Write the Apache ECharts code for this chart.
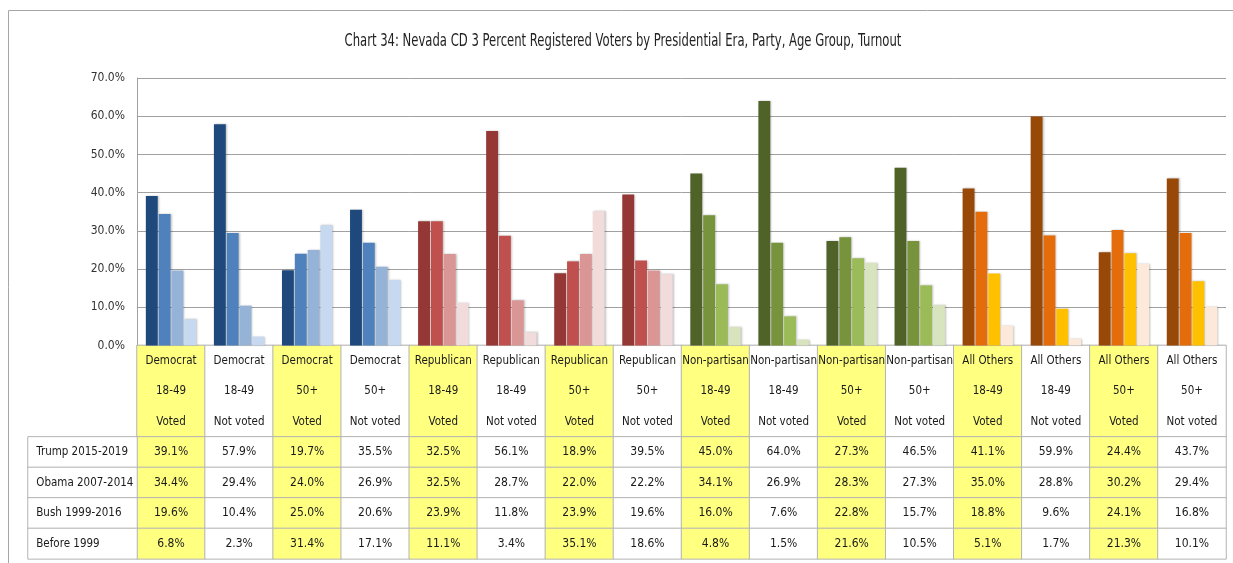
<!DOCTYPE html>
<html>
<head>
<meta charset="utf-8">
<script src="https://cdn.jsdelivr.net/npm/echarts@6/dist/echarts.min.js"></script>
<style>
html,body{margin:0;padding:0;background:#fff}
#main{width:1233px;height:563px}
</style>
</head>
<body>
<div id="main"></div>
<script>
// categories
var parties = ['Democrat', 'Republican', 'Non-partisan', 'All Others'];
var ages = ['18-49', '18-49', '50+', '50+'];
var turnout = ['Voted', 'Not voted', 'Voted', 'Not voted'];
var eras = ['Trump 2015-2019', 'Obama 2007-2014', 'Bush 1999-2016', 'Before 1999'];

// percent registered voters, one array per era
var trump  = [39.1, 57.9, 19.7, 35.5, 32.5, 56.1, 18.9, 39.5, 45.0, 64.0, 27.3, 46.5, 41.1, 59.9, 24.4, 43.7];
var obama  = [34.4, 29.4, 24.0, 26.9, 32.5, 28.7, 22.0, 22.2, 34.1, 26.9, 28.3, 27.3, 35.0, 28.8, 30.2, 29.4];
var bush   = [19.6, 10.4, 25.0, 20.6, 23.9, 11.8, 23.9, 19.6, 16.0,  7.6, 22.8, 15.7, 18.8,  9.6, 24.1, 16.8];
var before = [ 6.8,  2.3, 31.4, 17.1, 11.1,  3.4, 35.1, 18.6,  4.8,  1.5, 21.6, 10.5,  5.1,  1.7, 21.3, 10.1];

// colour shades per party (dark -> light, one per era)
var shades = [
	['#1f497d', '#4f81bd', '#95b3d7', '#c6d9f1'],
	['#953735', '#c0504d', '#d99694', '#f2dcdb'],
	['#4f6228', '#77933c', '#9bbb59', '#d7e4bd'],
	['#984807', '#e46c0a', '#ffc000', '#fde9d9']
];
var yellow = '#ffff80';
var cellBorder = '#b4b4b4';
var font = "'Liberation Sans Narrow', 'DejaVu Sans Condensed', 'Liberation Sans', sans-serif";
var titleText = 'Chart 34: Nevada CD 3 Percent Registered Voters by Presidential Era, Party, Age Group, Turnout';

var rows = [trump, obama, bush, before];
var cats = [];
for (var p = 0; p < parties.length; p++) {
	for (var k = 0; k < 4; k++) {
		cats.push({party: parties[p], pi: p, age: ages[k], turnout: turnout[k]});
	}
}
var catNames = cats.map(function (c) { return c.party + ' ' + c.age + ' ' + c.turnout; });

var chart = echarts.init(document.getElementById('main'));

// plot area
var L = 137, R = 1226, T = 78, B0 = 345.4;
var rowH = 30.5;
var cellFont = 12;

var series = [];
rows.forEach(function (row, s) {
	series.push({
		name: eras[s],
		type: 'bar',
		xAxisIndex: 0,
		yAxisIndex: 0,
		barCategoryGap: '26%',
		barGap: '8%',
		itemStyle: {
			shadowBlur: 2,
			shadowColor: 'rgba(0,0,0,0.25)',
			shadowOffsetX: 1,
			shadowOffsetY: 0
		},
		data: row.map(function (v, i) {
			return {value: v, itemStyle: {color: shades[cats[i].pi][s]}};
		})
	});
});

// header cells of the data table
series.push({
	type: 'heatmap',
	xAxisIndex: 1,
	yAxisIndex: 1,
	silent: true,
	itemStyle: {borderColor: cellBorder, borderWidth: 1},
	label: {
		show: true,
		fontFamily: font,
		fontSize: 11.5,
		color: '#1a1a1a',
		lineHeight: rowH,
		formatter: function (p) {
			var c = cats[p.value[0]];
			return c.party + '\n' + c.age + '\n' + c.turnout;
		}
	},
	data: cats.map(function (c, i) {
		return {value: [i, 0, 1], itemStyle: {color: c.turnout === 'Voted' ? yellow : '#fff'}};
	})
});

// value cells
var cells = [];
rows.forEach(function (row, r) {
	row.forEach(function (v, i) {
		cells.push({value: [i, r, v], itemStyle: {color: cats[i].turnout === 'Voted' ? yellow : '#fff'}});
	});
});
series.push({
	type: 'heatmap',
	xAxisIndex: 2,
	yAxisIndex: 2,
	silent: true,
	itemStyle: {borderColor: cellBorder, borderWidth: 1},
	label: {
		show: true,
		fontFamily: font,
		fontSize: cellFont,
		color: '#1a1a1a',
		formatter: function (p) { return p.value[2].toFixed(1) + '%'; }
	},
	data: cells
});

// row label cells
series.push({
	type: 'heatmap',
	xAxisIndex: 3,
	yAxisIndex: 3,
	silent: true,
	itemStyle: {borderColor: cellBorder, borderWidth: 1, color: '#fff'},
	label: {
		show: true,
		position: 'insideLeft',
		distance: 9,
		fontFamily: font,
		fontSize: 11.5,
		color: '#1a1a1a',
		formatter: function (p) { return eras[p.value[1]]; }
	},
	data: eras.map(function (e, r) { return {value: [0, r, 1], itemStyle: {color: '#fff'}}; })
});

var option = {
	animation: false,
	backgroundColor: '#fff',
	graphic: [{
		type: 'rect',
		silent: true,
		shape: {x: 8.5, y: 10.5, width: 1240, height: 570},
		style: {fill: 'none', stroke: '#a6a6a6', lineWidth: 1}
	}, {
		type: 'text',
		silent: true,
		x: 623,
		y: 42,
		scaleX: 0.76,
		style: {
			text: titleText,
			align: 'center',
			verticalAlign: 'middle',
			fontFamily: font,
			fontSize: 17,
			fill: '#222'
		}
	}],
	grid: [
		{left: L, top: T, width: R - L, height: B0 - T},
		{left: L, top: B0, width: R - L, height: rowH * 3},
		{left: L, top: B0 + rowH * 3, width: R - L, height: rowH * 4},
		{left: 28, top: B0 + rowH * 3, width: L - 28, height: rowH * 4}
	],
	xAxis: [
		{
			gridIndex: 0, type: 'category', data: catNames,
			axisLine: {lineStyle: {color: '#a0a0a0'}},
			axisTick: {show: false},
			axisLabel: {show: false}
		},
		{gridIndex: 1, type: 'category', data: catNames, show: false},
		{gridIndex: 2, type: 'category', data: catNames, show: false},
		{gridIndex: 3, type: 'category', data: ['era'], show: false}
	],
	yAxis: [
		{
			gridIndex: 0, type: 'value', min: 0, max: 70, interval: 10,
			axisLine: {show: true, lineStyle: {color: '#a0a0a0'}},
			axisTick: {show: false},
			splitLine: {lineStyle: {color: '#a0a0a0', width: 1}},
			axisLabel: {
				margin: 12,
				fontFamily: font,
				fontSize: 12,
				color: '#333',
				formatter: function (v) { return v.toFixed(1) + '%'; }
			}
		},
		{gridIndex: 1, type: 'category', data: ['head'], show: false},
		{gridIndex: 2, type: 'category', data: eras, inverse: true, show: false},
		{gridIndex: 3, type: 'category', data: eras, inverse: true, show: false}
	],
	series: series
};

chart.setOption(option);
</script>
</body>
</html>
